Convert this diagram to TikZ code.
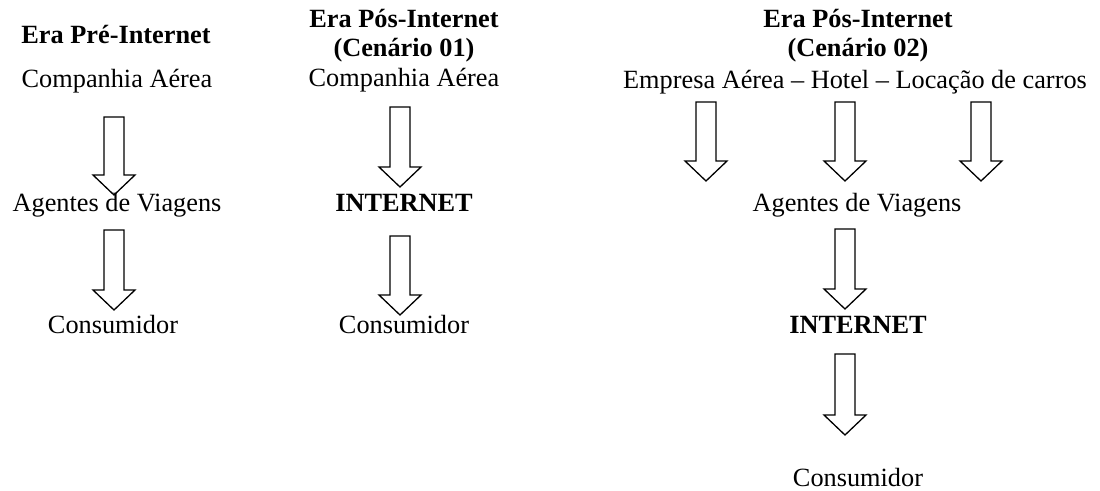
\documentclass[tikz,border=0pt]{standalone}
\usepackage{fontspec}
\setmainfont{Liberation Serif}
\usetikzlibrary{calc}
\begin{document}
\begin{tikzpicture}[x=1pt,y=-1pt,
  lbl/.style={anchor=base,inner sep=0pt,font=\fontsize{26.3}{30}\selectfont},
  ttl/.style={lbl,font=\fontsize{26.3}{30}\selectfont\bfseries},
  blockarrow/.style={draw=black,line width=1.3pt,line join=miter,
    to path={let \p1=(\tikztostart), \p2=(\tikztotarget) in
      (\x1-10pt,\y1) -- (\x1+10pt,\y1) -- (\x1+10pt,\y2+20pt) -- (\x1+21pt,\y2+20pt)
      -- (\x2,\y2) -- (\x1-21pt,\y2+20pt) -- (\x1-10pt,\y2+20pt) -- cycle}}]
\useasboundingbox (0,0) rectangle (1100,490);

% Era Pre-Internet
\node[ttl] (t1) at (116,43) {Era Pré-Internet};
\node[lbl] (c1) at (117,87) {Companhia Aérea};
\node[lbl] (g1) at (117,211) {Agentes de Viagens};
\node[lbl] (u1) at (113,333) {Consumidor};
\coordinate (a1s) at (114,117); \coordinate (a1e) at (114,195);
\coordinate (b1s) at (114,230); \coordinate (b1e) at (114,310);
\draw[blockarrow] (a1s) to (a1e);
\draw[blockarrow] (b1s) to (b1e);

% Era Pos-Internet, cenario 01
\node[ttl] (t2) at (404,27) {Era Pós-Internet};
\node[ttl] (s2) at (404,56) {(Cenário 01)};
\node[lbl] (c2) at (404,86) {Companhia Aérea};
\node[ttl] (i2) at (404,211) {INTERNET};
\node[lbl] (u2) at (404,333) {Consumidor};
\coordinate (a2s) at (400,107); \coordinate (a2e) at (400,187);
\coordinate (b2s) at (400,236); \coordinate (b2e) at (400,315);
\draw[blockarrow] (a2s) to (a2e);
\draw[blockarrow] (b2s) to (b2e);

% Era Pos-Internet, cenario 02
\node[ttl] (t3) at (858,27) {Era Pós-Internet};
\node[ttl] (s3) at (858,56) {(Cenário 02)};
\node[lbl] (c3) at (855,88) {Empresa Aérea – Hotel – Locação de carros};
\node[lbl] (g3) at (857,211) {Agentes de Viagens};
\node[ttl] (i3) at (858,333) {INTERNET};
\node[lbl] (u3) at (858,486) {Consumidor};
\coordinate (p3s) at (706,102); \coordinate (p3e) at (706,181);
\coordinate (q3s) at (845,102); \coordinate (q3e) at (845,181);
\coordinate (r3s) at (981,102); \coordinate (r3e) at (981,181);
\coordinate (b3s) at (845,229); \coordinate (b3e) at (845,309);
\coordinate (d3s) at (845,354); \coordinate (d3e) at (845,435);
\draw[blockarrow] (p3s) to (p3e);
\draw[blockarrow] (q3s) to (q3e);
\draw[blockarrow] (r3s) to (r3e);
\draw[blockarrow] (b3s) to (b3e);
\draw[blockarrow] (d3s) to (d3e);
\end{tikzpicture}
\end{document}
